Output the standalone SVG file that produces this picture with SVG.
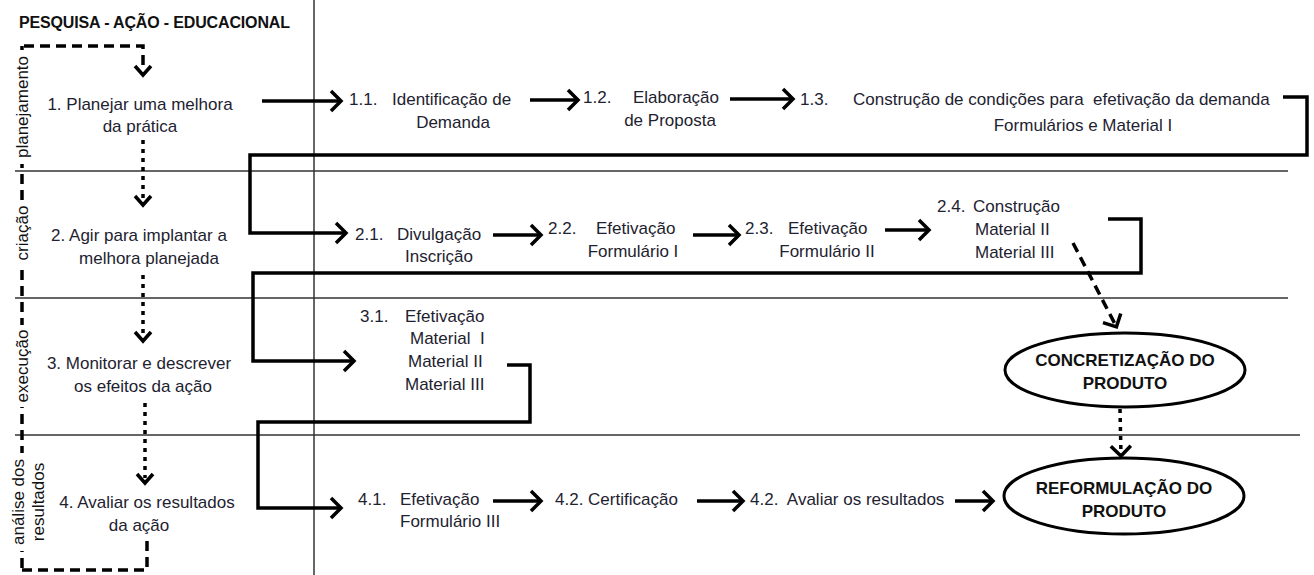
<svg xmlns="http://www.w3.org/2000/svg" width="1314" height="575" viewBox="0 0 1314 575">
  <defs>
    <style>
      .t { font-family: "Liberation Sans", Arial, sans-serif; font-size: 17px; fill: #1e2230; }
      .b { font-family: "Liberation Sans", Arial, sans-serif; font-size: 17px; font-weight: bold; fill: #111; }
      .title { font-family: "Liberation Sans", Arial, sans-serif; font-size: 16px; font-weight: bold; fill: #111; }
      .side { font-family: "Liberation Sans", Arial, sans-serif; font-size: 17px; fill: #111; }
      .grid { stroke: #333; stroke-width: 1.5; fill: none; }
      .flow { stroke: #000; stroke-width: 3.5; fill: none; stroke-linejoin: miter; }
      .dash { stroke: #000; stroke-width: 3.5; fill: none; stroke-dasharray: 10 6; }
      .dot { stroke: #000; stroke-width: 3.5; fill: none; stroke-dasharray: 4 5; }
      .node { fill: #fff; stroke: #000; stroke-width: 3; }
    </style>
    <marker id="chev" markerUnits="userSpaceOnUse" markerWidth="16" markerHeight="24" refX="11" refY="12" orient="auto" overflow="visible">
      <path d="M2,2 L12,12 L2,22" fill="none" stroke="#000" stroke-width="3.5"/>
    </marker>
  </defs>

  <!-- swimlane grid -->
  <g id="grid">
    <line class="grid" x1="314" y1="0" x2="314" y2="575"/>
    <line class="grid" x1="15" y1="171" x2="1288" y2="171"/>
    <line class="grid" x1="15" y1="298" x2="1288" y2="298"/>
    <line class="grid" x1="15" y1="435" x2="1300" y2="435"/>
  </g>

  <text class="title" x="19" y="28" textLength="271">PESQUISA - AÇÃO - EDUCACIONAL</text>

  <!-- cycle frame on the left -->
  <g id="cycle">
    <path class="dash" d="M24,46 H143 V66"/>
    <path class="flow" d="M135,66 L143,75 L151,66" stroke-width="3"/>
    <line class="dash" x1="22" y1="46" x2="22" y2="572"/>
    <path class="dash" d="M22,570 H147 V536"/>
    <line class="dot" x1="143" y1="140" x2="143" y2="200"/>
    <line class="dot" x1="143" y1="275" x2="143" y2="336"/>
    <line class="dot" x1="145" y1="403" x2="145" y2="478"/>
    <path class="flow" d="M135,196 L143,205 L151,196" stroke-width="3"/>
    <path class="flow" d="M135,332 L143,341 L151,332" stroke-width="3"/>
    <path class="flow" d="M137,474 L145,483 L153,474" stroke-width="3"/>
  </g>

  <!-- phase labels -->
  <g id="phases">
    <rect x="12" y="50" width="20" height="114" fill="#fff"/>
    <text class="side" transform="translate(28,107) rotate(-90)" text-anchor="middle">planejamento</text>
    <rect x="12" y="200" width="20" height="66" fill="#fff"/>
    <text class="side" transform="translate(28,233) rotate(-90)" text-anchor="middle">criação</text>
    <rect x="12" y="325" width="20" height="82" fill="#fff"/>
    <text class="side" transform="translate(28,366) rotate(-90)" text-anchor="middle">execução</text>
    <rect x="12" y="453" width="38" height="98" fill="#fff"/>
    <text class="side" transform="translate(24,502) rotate(-90)" text-anchor="middle">análise dos</text>
    <text class="side" transform="translate(44,502) rotate(-90)" text-anchor="middle">resultados</text>
  </g>

  <!-- stages -->
  <g id="stage1">
    <text class="t" x="140" y="110" text-anchor="middle">1. Planejar uma melhora</text>
    <text class="t" x="140" y="132" text-anchor="middle">da prática</text>
  </g>
  <g id="stage2">
    <text class="t" x="139" y="241" text-anchor="middle">2. Agir para implantar a</text>
    <text class="t" x="149" y="264" text-anchor="middle">melhora planejada</text>
  </g>
  <g id="stage3">
    <text class="t" x="139" y="369" text-anchor="middle">3. Monitorar e descrever</text>
    <text class="t" x="143" y="392" text-anchor="middle">os efeitos da ação</text>
  </g>
  <g id="stage4">
    <text class="t" x="147" y="508" text-anchor="middle">4. Avaliar os resultados</text>
    <text class="t" x="139" y="531" text-anchor="middle">da ação</text>
  </g>

  <!-- activities -->
  <g id="a1-1">
    <text class="t" x="349" y="105">1.1.</text>
    <text class="t" x="392" y="105">Identificação de</text>
    <text class="t" x="453" y="128" text-anchor="middle">Demanda</text>
  </g>
  <g id="a1-2">
    <text class="t" x="583" y="103">1.2.</text>
    <text class="t" x="633" y="103">Elaboração</text>
    <text class="t" x="670" y="126" text-anchor="middle">de Proposta</text>
  </g>
  <g id="a1-3">
    <text class="t" x="800" y="105">1.3.</text>
    <text class="t" x="853" y="105" xml:space="preserve">Construção de condições para  efetivação da demanda</text>
    <text class="t" x="1083" y="131" text-anchor="middle">Formulários e Material I</text>
  </g>
  <g id="a2-1">
    <text class="t" x="355" y="240">2.1.</text>
    <text class="t" x="397" y="240">Divulgação</text>
    <text class="t" x="439" y="262" text-anchor="middle">Inscrição</text>
  </g>
  <g id="a2-2">
    <text class="t" x="548" y="234">2.2.</text>
    <text class="t" x="596" y="234">Efetivação</text>
    <text class="t" x="633" y="257" text-anchor="middle">Formulário I</text>
  </g>
  <g id="a2-3">
    <text class="t" x="745" y="234">2.3.</text>
    <text class="t" x="788" y="234">Efetivação</text>
    <text class="t" x="827" y="257" text-anchor="middle">Formulário II</text>
  </g>
  <g id="a2-4">
    <text class="t" x="937" y="212">2.4.</text>
    <text class="t" x="973" y="212">Construção</text>
    <text class="t" x="975" y="235">Material II</text>
    <text class="t" x="975" y="258">Material III</text>
  </g>
  <g id="a3-1">
    <text class="t" x="360" y="322">3.1.</text>
    <text class="t" x="405" y="322">Efetivação</text>
    <text class="t" x="410" y="344" xml:space="preserve">Material  I</text>
    <text class="t" x="408" y="367">Material II</text>
    <text class="t" x="405" y="390">Material III</text>
  </g>
  <g id="a4-1">
    <text class="t" x="358" y="505">4.1.</text>
    <text class="t" x="400" y="505">Efetivação</text>
    <text class="t" x="400" y="527">Formulário III</text>
  </g>
  <g id="a4-2">
    <text class="t" x="555" y="505">4.2. Certificação</text>
  </g>
  <g id="a4-3">
    <text class="t" x="750" y="505" xml:space="preserve">4.2.  Avaliar os resultados</text>
  </g>

  <!-- products -->
  <g id="concretizacao">
    <ellipse class="node" cx="1125" cy="370" rx="120" ry="37"/>
    <text class="b" x="1125" y="366" text-anchor="middle">CONCRETIZAÇÃO DO</text>
    <text class="b" x="1125" y="389" text-anchor="middle">PRODUTO</text>
  </g>
  <g id="reformulacao">
    <ellipse class="node" cx="1124" cy="496" rx="120" ry="38"/>
    <text class="b" x="1124" y="494" text-anchor="middle">REFORMULAÇÃO DO</text>
    <text class="b" x="1124" y="517" text-anchor="middle">PRODUTO</text>
  </g>

  <!-- connectors -->
  <g id="connectors">
    <line class="flow" x1="262" y1="101" x2="340" y2="101" marker-end="url(#chev)"/>
    <line class="flow" x1="530" y1="100" x2="577" y2="100" marker-end="url(#chev)"/>
    <line class="flow" x1="730" y1="99" x2="792" y2="99" marker-end="url(#chev)"/>
    <path class="flow" d="M1283,97 H1307 V155 H250 V233 H345" marker-end="url(#chev)"/>
    <line class="flow" x1="493" y1="235" x2="540" y2="235" marker-end="url(#chev)"/>
    <line class="flow" x1="693" y1="235" x2="738" y2="235" marker-end="url(#chev)"/>
    <line class="flow" x1="885" y1="230" x2="928" y2="230" marker-end="url(#chev)"/>
    <path class="flow" d="M1108,219 H1141 V273 H253 V361 H353" marker-end="url(#chev)"/>
    <path class="flow" d="M507,365 H530 V422 H258 V508 H340" marker-end="url(#chev)"/>
    <line class="flow" x1="493" y1="501" x2="540" y2="501" marker-end="url(#chev)"/>
    <line class="flow" x1="697" y1="501" x2="742" y2="501" marker-end="url(#chev)"/>
    <line class="flow" x1="955" y1="501" x2="992" y2="501" marker-end="url(#chev)"/>
    <line class="dash" x1="1073" y1="243" x2="1116" y2="326" marker-end="url(#chev)"/>
    <line class="dot" x1="1120" y1="409" x2="1121" y2="455" marker-end="url(#chev)"/>
  </g>
</svg>
